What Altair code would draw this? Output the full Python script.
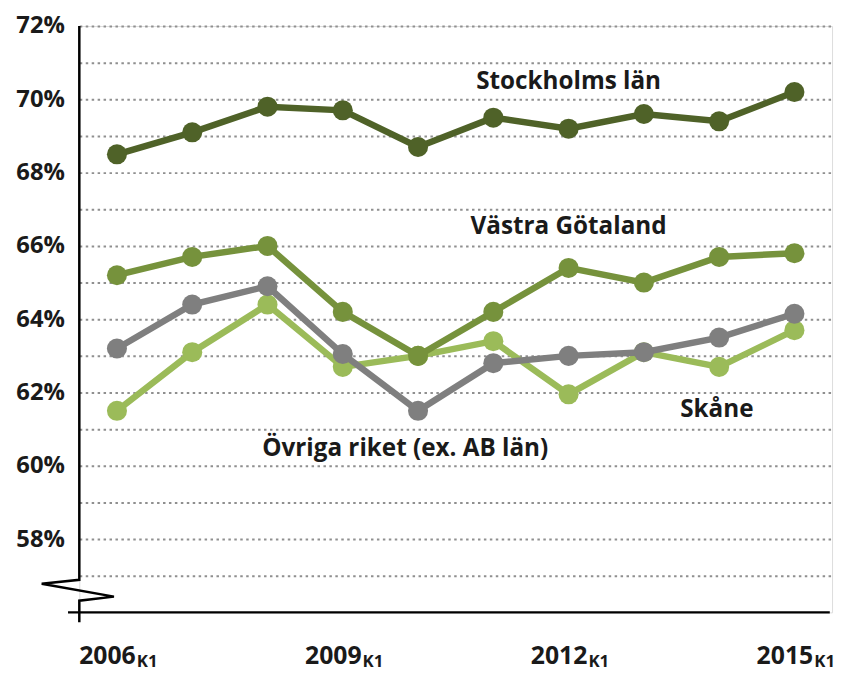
import altair as alt
import pandas as pd

# ---- data ----
years = ["2006", "2007", "2008", "2009", "2010", "2011", "2012", "2013", "2014", "2015"]
stockholm = [68.5, 69.1, 69.8, 69.7, 68.7, 69.5, 69.2, 69.6, 69.4, 70.2]
vastra = [65.2, 65.7, 66.0, 64.2, 63.0, 64.2, 65.4, 65.0, 65.7, 65.8]
ovriga = [63.2, 64.4, 64.9, 63.05, 61.5, 62.8, 63.0, 63.1, 63.5, 64.15]
skane = [61.5, 63.1, 64.4, 62.7, 63.0, 63.4, 61.95, 63.1, 62.7, 63.7]

# draw order: bottom to top
series_names = ["Skåne", "Övriga riket (ex. AB län)", "Västra Götaland", "Stockholms län"]
series_values = [skane, ovriga, vastra, stockholm]
series_colors = ["#9bbb59", "#7f7f7f", "#76923c", "#4f6228"]

label_texts = ["Stockholms län", "Västra Götaland", "Skåne", "Övriga riket (ex. AB län)"]
label_x = [6.0, 6.0, 7.97, 3.83]
label_y = [70.27, 66.32, 61.32, 60.28]

tick_index = [0, 3, 6, 9]
tick_years = ["2006", "2009", "2012", "2015"]
tick_suffix = ["K1", "K1", "K1", "K1"]

y_ticks = list(range(57, 73))

# axis break (zigzag) in data units
break_x = [-0.5, -0.5, -1.0, -0.04, -0.5, -0.5]
break_y = [72.0, 56.89, 56.78, 56.43, 56.32, 55.73]

FONT = "Open Sans"
W, H = 760, 592
xs = alt.Scale(domain=[-0.5, 9.5])
ys = alt.Scale(domain=[56, 72])

yaxis = alt.Axis(
    values=y_ticks, grid=True, gridColor="#8f8f8f", gridDash=[2.5, 3.5], gridWidth=2,
    domain=False, ticks=False, labelOverlap=False,
    labelExpr="datum.value % 2 == 0 ? datum.value + '%' : ''",
    labelFont=FONT, labelFontWeight="bold", labelFontSize=24, labelColor="#1a1a1a",
    labelPadding=15, labelBaseline="middle", title=None,
)

layers = []

# grid carrier (invisible)
grid_df = pd.DataFrame({"v": y_ticks})
layers.append(
    alt.Chart(grid_df).mark_point(opacity=0).encode(
        x=alt.value(0), y=alt.Y("v:Q", scale=ys, axis=yaxis)
    )
)

for name, vals, col in zip(series_names, series_values, series_colors):
    df = pd.DataFrame({"idx": list(range(len(years))), "year": years, "value": vals, "series": name})
    base = alt.Chart(df).encode(
        x=alt.X("idx:Q", scale=xs, axis=None),
        y=alt.Y("value:Q", scale=ys, axis=yaxis),
    )
    layers.append(base.mark_line(strokeWidth=6.5, color=col))
    layers.append(base.mark_circle(size=410, opacity=1, color=col))

# axis lines
brk_df = pd.DataFrame({"x": break_x, "y": break_y, "o": list(range(len(break_x)))})
layers.append(
    alt.Chart(brk_df).mark_line(color="#000000", strokeWidth=2.5, strokeJoin="miter").encode(
        x=alt.X("x:Q", scale=xs, axis=None),
        y=alt.Y("y:Q", scale=ys, axis=yaxis),
        order="o:Q",
    )
)
xaxis_df = pd.DataFrame({"x": [-0.65], "x2": [9.47], "y": [56.0]})
layers.append(
    alt.Chart(xaxis_df).mark_rule(color="#000000", strokeWidth=2.5).encode(
        x=alt.X("x:Q", scale=xs, axis=None), x2="x2:Q",
        y=alt.Y("y:Q", scale=ys, axis=yaxis),
    )
)

# series labels
lab_df = pd.DataFrame({"t": label_texts, "x": label_x, "y": label_y})
layers.append(
    alt.Chart(lab_df).mark_text(
        font=FONT, fontWeight="bold", fontSize=24.5, color="#1a1a1a", align="center", baseline="alphabetic"
    ).encode(
        x=alt.X("x:Q", scale=xs, axis=None),
        y=alt.Y("y:Q", scale=ys, axis=yaxis),
        text="t:N",
    )
)

# x tick labels with subscript
tick_df = pd.DataFrame({"idx": tick_index, "year": tick_years, "sub": tick_suffix})
layers.append(
    alt.Chart(tick_df).mark_text(
        font=FONT, fontWeight="bold", fontSize=25, color="#1a1a1a", align="right", baseline="alphabetic", dx=19
    ).encode(x=alt.X("idx:Q", scale=xs, axis=None), y=alt.value(H + 52), text="year:N")
)
layers.append(
    alt.Chart(tick_df).mark_text(
        font=FONT, fontWeight="bold", fontSize=17, color="#1a1a1a", align="left", baseline="alphabetic", dx=20
    ).encode(x=alt.X("idx:Q", scale=xs, axis=None), y=alt.value(H + 55), text="sub:N")
)

chart = alt.layer(*layers).properties(
    width=W, height=H,
    autosize=alt.AutoSizeParams(type="none"),
    padding={"left": 72, "top": 15, "right": 5, "bottom": 60},
).configure_view(stroke=None).configure(background="white")

chart.save("out.html", embed_options={"renderer": "svg", "actions": False})
